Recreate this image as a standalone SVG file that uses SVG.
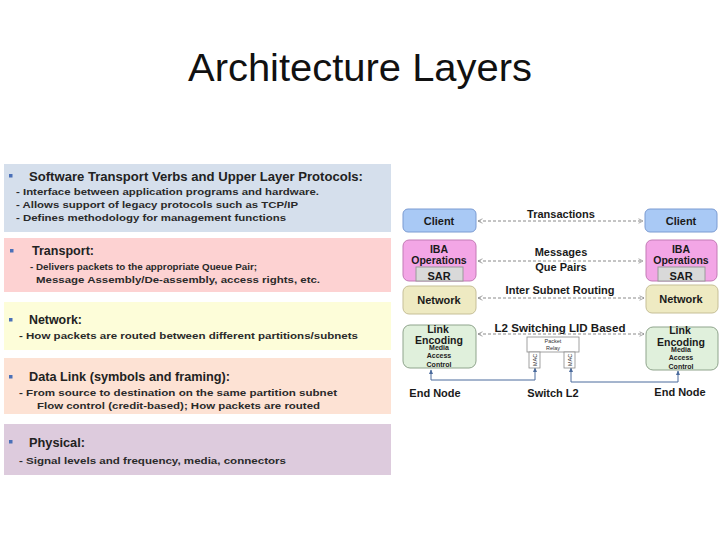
<svg xmlns="http://www.w3.org/2000/svg" width="720" height="540" viewBox="0 0 720 540">
<style>
  .title{font-family:"Liberation Sans",Arial,sans-serif;font-size:38px;fill:#111}
  .h{font-family:"Liberation Sans",Arial,sans-serif;font-size:12.5px;font-weight:bold;fill:#222}
  .t{font-family:"Liberation Sans",Arial,sans-serif;font-size:9.8px;font-weight:bold;fill:#2a2a2a}
  .bul{fill:#4a70b8}
  .n{font-family:"Liberation Sans",Arial,sans-serif;font-size:11px;font-weight:bold;fill:#1a1a1a;text-anchor:middle}
  .m{font-family:"Liberation Sans",Arial,sans-serif;font-size:10.5px;font-weight:bold;fill:#1a1a1a;text-anchor:middle}
  .s{font-family:"Liberation Sans",Arial,sans-serif;font-size:7px;font-weight:bold;fill:#222;text-anchor:middle}
  .xs{font-family:"Liberation Sans",Arial,sans-serif;font-size:5.5px;fill:#333;text-anchor:middle}
  .client{fill:#a9c9f5;stroke:#7b9bd2;stroke-width:1}
  .iba{fill:#f3a6e6;stroke:#c37ab5;stroke-width:1}
  .sar{fill:#d9d9d9;stroke:#9a9a9a;stroke-width:1}
  .net{fill:#eeeac2;stroke:#c6bf97;stroke-width:1}
  .link{fill:#e0f0dc;stroke:#8fa48c;stroke-width:1}
  .sw{fill:#ffffff;stroke:#8a8a8a;stroke-width:0.8}
  .dash{fill:none;stroke:#8a8a8a;stroke-width:1;stroke-dasharray:3,2}
  .solid{fill:none;stroke:#4a6a9c;stroke-width:1}
</style>
<defs>
  <marker id="chev" viewBox="0 0 8 8" refX="7" refY="4" markerWidth="6" markerHeight="6" orient="auto-start-reverse" markerUnits="userSpaceOnUse">
    <path d="M1,1 L7,4 L1,7" fill="none" stroke="#8a8a8a" stroke-width="1"/>
  </marker>
  <marker id="tri" viewBox="0 0 8 8" refX="7" refY="4" markerWidth="5" markerHeight="5" orient="auto-start-reverse" markerUnits="userSpaceOnUse">
    <path d="M0,0.5 L8,4 L0,7.5 Z" fill="#4a6a9c"/>
  </marker>
</defs>
<rect width="720" height="540" fill="#ffffff"/>

<text class="title" x="360" y="81" text-anchor="middle" textLength="344" lengthAdjust="spacingAndGlyphs">Architecture Layers</text>

<!-- left layer bands -->
<g id="band-software">
  <rect x="4" y="164" width="387" height="68" fill="#d5dfec"/>
  <rect class="bul" x="9" y="174" width="3.5" height="3.5"/>
  <text class="h" x="29" y="181" textLength="334" lengthAdjust="spacingAndGlyphs">Software Transport Verbs and Upper Layer Protocols:</text>
  <text class="t" x="16" y="195" textLength="303" lengthAdjust="spacingAndGlyphs">- Interface between application programs and hardware.</text>
  <text class="t" x="16" y="208" textLength="282" lengthAdjust="spacingAndGlyphs">- Allows support of legacy protocols such as TCP/IP</text>
  <text class="t" x="16" y="221" textLength="270" lengthAdjust="spacingAndGlyphs">- Defines methodology for management functions</text>
</g>
<g id="band-transport">
  <rect x="4" y="238" width="387" height="54" fill="#fdd2d2"/>
  <rect class="bul" x="10" y="249" width="3.5" height="3.5"/>
  <text class="h" x="32" y="255" textLength="62" lengthAdjust="spacingAndGlyphs">Transport:</text>
  <text class="t" x="30" y="270" textLength="227" lengthAdjust="spacingAndGlyphs">- Delivers packets to the appropriate Queue Pair;</text>
  <text class="t" x="36" y="283" textLength="284" lengthAdjust="spacingAndGlyphs">Message Assembly/De-assembly, access rights, etc.</text>
</g>
<g id="band-network">
  <rect x="4" y="302" width="387" height="48" fill="#fdfdd9"/>
  <rect class="bul" x="9" y="318" width="3.5" height="3.5"/>
  <text class="h" x="29" y="324" textLength="53" lengthAdjust="spacingAndGlyphs">Network:</text>
  <text class="t" x="19" y="339" textLength="339" lengthAdjust="spacingAndGlyphs">- How packets are routed between different partitions/subnets</text>
</g>
<g id="band-datalink">
  <rect x="4" y="358" width="387" height="56" fill="#fde2d4"/>
  <rect class="bul" x="9" y="375" width="3.5" height="3.5"/>
  <text class="h" x="29" y="381" textLength="201" lengthAdjust="spacingAndGlyphs">Data Link (symbols and framing):</text>
  <text class="t" x="19" y="396" textLength="318" lengthAdjust="spacingAndGlyphs">- From source to destination on the same partition subnet</text>
  <text class="t" x="37" y="409" textLength="283" lengthAdjust="spacingAndGlyphs">Flow control (credit-based); How packets are routed</text>
</g>
<g id="band-physical">
  <rect x="4" y="424" width="387" height="51" fill="#ddcbdd"/>
  <rect class="bul" x="9" y="440" width="3.5" height="3.5"/>
  <text class="h" x="29" y="447" textLength="56" lengthAdjust="spacingAndGlyphs">Physical:</text>
  <text class="t" x="19" y="464" textLength="267" lengthAdjust="spacingAndGlyphs">- Signal levels and frequency, media, connectors</text>
</g>

<!-- connectors -->
<g id="connectors">
  <line class="dash" x1="478" y1="221" x2="643" y2="221" marker-start="url(#chev)" marker-end="url(#chev)"/>
  <line class="dash" x1="478" y1="261" x2="643" y2="261" marker-start="url(#chev)" marker-end="url(#chev)"/>
  <line class="dash" x1="478" y1="298" x2="644" y2="298" marker-start="url(#chev)" marker-end="url(#chev)"/>
  <line class="dash" x1="478" y1="334" x2="644" y2="334" marker-start="url(#chev)" marker-end="url(#chev)"/>
  <path class="solid" d="M431,370 V380 H535 V368" marker-start="url(#tri)" marker-end="url(#tri)"/>
  <path class="solid" d="M571,368 V382 H678 V371" marker-start="url(#tri)" marker-end="url(#tri)"/>
  <text class="n" x="561" y="218">Transactions</text>
  <text class="n" x="561" y="256">Messages</text>
  <text class="n" x="561" y="271">Que Pairs</text>
  <text class="n" x="560" y="294">Inter Subnet Routing</text>
  <text class="n" x="560" y="332" textLength="131" lengthAdjust="spacingAndGlyphs">L2 Switching  LID Based</text>
</g>

<!-- left end node -->
<g id="client-left">
  <rect class="client" x="403" y="209" width="73" height="23" rx="5"/>
  <text class="n" x="439" y="225">Client</text>
</g>
<g id="iba-left">
  <rect class="iba" x="403" y="240" width="73" height="41" rx="6"/>
  <text class="m" x="439" y="253">IBA</text>
  <text class="m" x="439" y="264">Operations</text>
  <rect class="sar" x="416" y="267" width="47" height="14"/>
  <text class="n" x="439" y="280">SAR</text>
</g>
<g id="network-left">
  <rect class="net" x="403" y="286" width="73" height="28" rx="6"/>
  <text class="n" x="439" y="304">Network</text>
</g>
<g id="link-left">
  <rect class="link" x="403" y="325" width="73" height="43" rx="7"/>
  <text class="m" x="438" y="333">Link</text>
  <text class="m" x="439" y="344">Encoding</text>
  <text class="s" x="439" y="350">Media</text>
  <text class="s" x="439" y="358">Access</text>
  <text class="s" x="439" y="367">Control</text>
</g>

<!-- right end node -->
<g id="client-right">
  <rect class="client" x="645" y="209" width="72" height="23" rx="5"/>
  <text class="n" x="681" y="225">Client</text>
</g>
<g id="iba-right">
  <rect class="iba" x="646" y="240" width="71" height="41" rx="6"/>
  <text class="m" x="681" y="253">IBA</text>
  <text class="m" x="681" y="264">Operations</text>
  <rect class="sar" x="658" y="267" width="47" height="14"/>
  <text class="n" x="681" y="280">SAR</text>
</g>
<g id="network-right">
  <rect class="net" x="646" y="285" width="72" height="28" rx="6"/>
  <text class="n" x="681" y="303">Network</text>
</g>
<g id="link-right">
  <rect class="link" x="646" y="327" width="72" height="43" rx="7"/>
  <text class="m" x="680" y="334">Link</text>
  <text class="m" x="681" y="346">Encoding</text>
  <text class="s" x="681" y="352">Media</text>
  <text class="s" x="681" y="360">Access</text>
  <text class="s" x="681" y="369">Control</text>
</g>

<!-- switch -->
<g id="switch">
  <rect class="sw" x="527" y="337" width="52" height="15"/>
  <text class="xs" x="553" y="343">Packet</text>
  <text class="xs" x="553" y="350">Relay</text>
  <rect class="sw" x="529" y="352" width="11" height="16"/>
  <rect class="sw" x="564" y="352" width="11" height="16"/>
  <text class="xs" transform="translate(536.5,360) rotate(-90)" x="0" y="0">MAC</text>
  <text class="xs" transform="translate(571.5,360) rotate(-90)" x="0" y="0">MAC</text>
</g>

<g id="labels">
  <text class="n" x="435" y="397">End Node</text>
  <text class="n" x="553" y="397">Switch L2</text>
  <text class="n" x="680" y="396">End Node</text>
</g>
</svg>
